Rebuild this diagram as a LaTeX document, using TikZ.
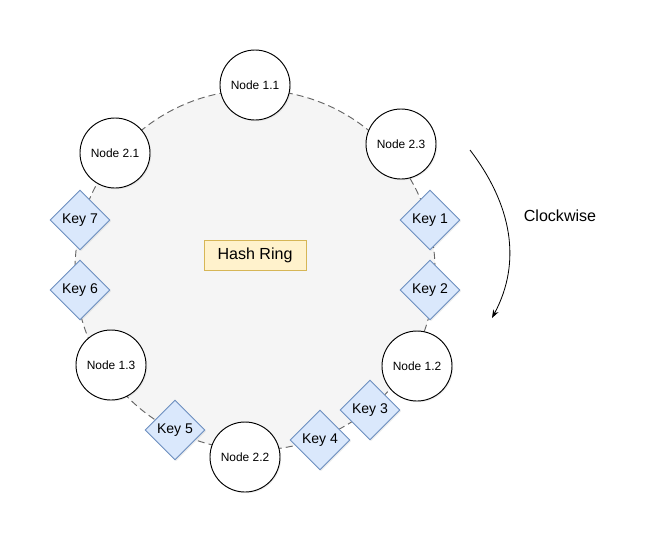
\documentclass[tikz,border=0pt]{standalone}
\usepackage{fontspec}
\setmainfont{Liberation Sans}
\usetikzlibrary{shapes.geometric}
\usetikzlibrary{arrows.meta}
\usetikzlibrary{shadows}
\usepackage{xcolor}
\definecolor{ringfill}{HTML}{F5F5F5}
\definecolor{ringline}{HTML}{666666}
\definecolor{keyfill}{HTML}{DAE8FC}
\definecolor{keyline}{HTML}{6C8EBF}
\definecolor{tagfill}{HTML}{FFF2CC}
\definecolor{tagline}{HTML}{D6B656}

\begin{document}
\begin{tikzpicture}[x=0.03cm, y=-0.03cm,
  server/.style={circle, draw=black, fill=white, line width=0.8pt, minimum size=2.1cm, inner sep=0pt,
    drop shadow={shadow xshift=1pt, shadow yshift=-1pt, opacity=0.15}, font=\fontsize{10.2}{12}\selectfont},
  hkey/.style={diamond, draw=keyline, fill=keyfill, line width=0.8pt, minimum width=1.8cm, minimum height=1.8cm, inner sep=0pt,
    drop shadow={shadow xshift=1pt, shadow yshift=-1pt, opacity=0.15}, font=\fontsize{12}{14}\selectfont},
  tag/.style={rectangle, draw=tagline, fill=tagfill, line width=0.8pt, minimum width=3.06cm, minimum height=0.9cm, font=\fontsize{13.7}{16}\selectfont}]
\useasboundingbox (0,0) rectangle (667,548);
\coordinate (C) at (255,270);
\draw[ringline, fill=ringfill, line width=0.8pt, dash pattern=on 6pt off 3.5pt] (C) circle [radius=5.4cm];
\node[tag] (ring) at (255,255) {Hash Ring};
% servers on the ring
\node[server] (n11) at (255,85) {Node 1.1};
\node[server] (n23) at (401,144) {Node 2.3};
\node[server] (n12) at (417,366) {Node 1.2};
\node[server] (n22) at (245,457) {Node 2.2};
\node[server] (n13) at (111,365) {Node 1.3};
\node[server] (n21) at (115,153) {Node 2.1};
% keys
\node[hkey] (k1) at (430,220) {Key 1};
\node[hkey] (k2) at (430,290) {Key 2};
\node[hkey] (k3) at (370,410) {Key 3};
\node[hkey] (k4) at (320,440) {Key 4};
\node[hkey] (k5) at (175,430) {Key 5};
\node[hkey] (k6) at (80,290) {Key 6};
\node[hkey] (k7) at (80,220) {Key 7};
% direction
\coordinate (cwA) at (470,150);
\coordinate (cwB) at (492,318);
\draw[black, line width=0.7pt, -{Stealth[length=7pt, width=5pt]}] (cwA) .. controls (512,205) and (522,262) .. (cwB);
\node[font=\fontsize{13.7}{16}\selectfont] (cw) at (560,216) {Clockwise};
\end{tikzpicture}
\end{document}
